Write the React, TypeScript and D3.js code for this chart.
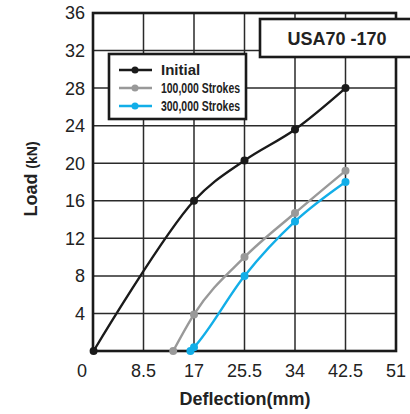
import React from "react";
import * as d3 from "d3";

const xTicks = [0, 8.5, 17, 25.5, 34, 42.5, 51];
const yTicks = [4, 8, 12, 16, 20, 24, 28, 32, 36];

const seriesNames = ["Initial", "100,000 Strokes", "300,000 Strokes"];
const seriesColors = ["#1a1a1a", "#999999", "#12aee8"];
const initialX = [0.1, 17, 25.5, 34, 42.5];
const initialY = [0, 16, 20.3, 23.6, 28];
const s100X = [13.5, 17, 25.5, 34, 42.5];
const s100Y = [0, 3.9, 10, 14.7, 19.2];
const s300X = [16.4, 17, 25.5, 34, 42.5];
const s300Y = [0, 0.4, 8, 13.8, 18];
const title = "USA70 -170";

const W = 410, H = 414;
const L = 93, R = 396, T = 13, B = 351;

export default function App() {
  const x = d3.scaleLinear().domain([0, 51]).range([L, R]);
  const y = d3.scaleLinear().domain([0, 36]).range([B, T]);
  const series = [
    { xs: initialX, ys: initialY, curve: d3.curveCatmullRom.alpha(0.5) },
    { xs: s100X, ys: s100Y, curve: d3.curveMonotoneX },
    { xs: s300X, ys: s300Y, curve: d3.curveMonotoneX },
  ];
  const font = "Liberation Sans, Arial, Helvetica, sans-serif";
  const narrow = "Liberation Sans Narrow, Arial Narrow, Liberation Sans, sans-serif";
  const legY = [70, 88, 106];

  return (
    <svg width={W} height={H} style={{ position: "absolute", left: 0, top: 0 }} fontFamily={font}>
      <rect x={0} y={0} width={W} height={H} fill="#fff" />
      {/* grid */}
      {xTicks.slice(1, -1).map((t) => (
        <line key={"gx" + t} x1={x(t)} x2={x(t)} y1={T} y2={B} stroke="#2a2a2a" strokeWidth={1.5} />
      ))}
      {yTicks.slice(0, -1).map((t) => (
        <line key={"gy" + t} x1={L} x2={R} y1={y(t)} y2={y(t)} stroke="#2a2a2a" strokeWidth={1.5} />
      ))}
      <rect x={L} y={T} width={R - L} height={B - T} fill="none" stroke="#1a1a1a" strokeWidth={2.6} />
      {/* tick labels */}
      {yTicks.map((t) => (
        <text key={"ty" + t} x={85} y={y(t)} dy="0.36em" textAnchor="end" fontSize={18} fill="#222">
          {t}
        </text>
      ))}
      {xTicks.map((t) => (
        <text key={"tx" + t} x={t === 0 ? x(t) - 11 : x(t)} y={377} textAnchor="middle" fontSize={18} fill="#222">
          {t}
        </text>
      ))}
      {/* series */}
      {series.map((s, i) => {
        const pts = s.xs.map((v, j) => [v, s.ys[j]] as [number, number]);
        const line = d3
          .line<[number, number]>()
          .x((d) => x(d[0]))
          .y((d) => y(d[1]))
          .curve(s.curve);
        return (
          <g key={"s" + i}>
            <path d={line(pts) || ""} fill="none" stroke={seriesColors[i]} strokeWidth={2.4} />
            {pts.map((p, j) => (
              <circle key={j} cx={x(p[0])} cy={y(p[1])} r={4} fill={seriesColors[i]} />
            ))}
          </g>
        );
      })}
      {/* legend */}
      <rect x={109} y={54} width={137} height={65} fill="#fff" stroke="#1a1a1a" strokeWidth={2.6} />
      {seriesNames.map((n, i) => (
        <g key={"l" + i}>
          <line x1={119} x2={152} y1={legY[i]} y2={legY[i]} stroke={seriesColors[i]} strokeWidth={2.4} />
          <circle cx={135} cy={legY[i]} r={3.5} fill={seriesColors[i]} />
          {i === 0 ? (
            <text x={161} y={legY[i]} dy="0.36em" fontSize={15} fontWeight="bold" fill="#222">
              {n}
            </text>
          ) : (
            <text x={161} y={legY[i]} dy="0.36em" fontSize={14} fontWeight="bold" fontFamily={narrow}
              textLength={79} lengthAdjust="spacingAndGlyphs" fill="#222">
              {n}
            </text>
          )}
        </g>
      ))}
      {/* title box */}
      <rect x={260} y={19} width={170} height={38} fill="#fff" stroke="#1a1a1a" strokeWidth={2.6} />
      <text x={337} y={45} textAnchor="middle" fontSize={18} fontWeight="bold" fill="#222">
        {title}
      </text>
      {/* axis titles */}
      <text x={245} y={405} textAnchor="middle" fontSize={18} fontWeight="bold" fill="#222">
        Deflection(mm)
      </text>
      <text transform="translate(37,179) rotate(-90)" textAnchor="middle" fontWeight="bold" fill="#222">
        <tspan fontSize={18}>Load </tspan>
        <tspan fontSize={14}>(kN)</tspan>
      </text>
    </svg>
  );
}
